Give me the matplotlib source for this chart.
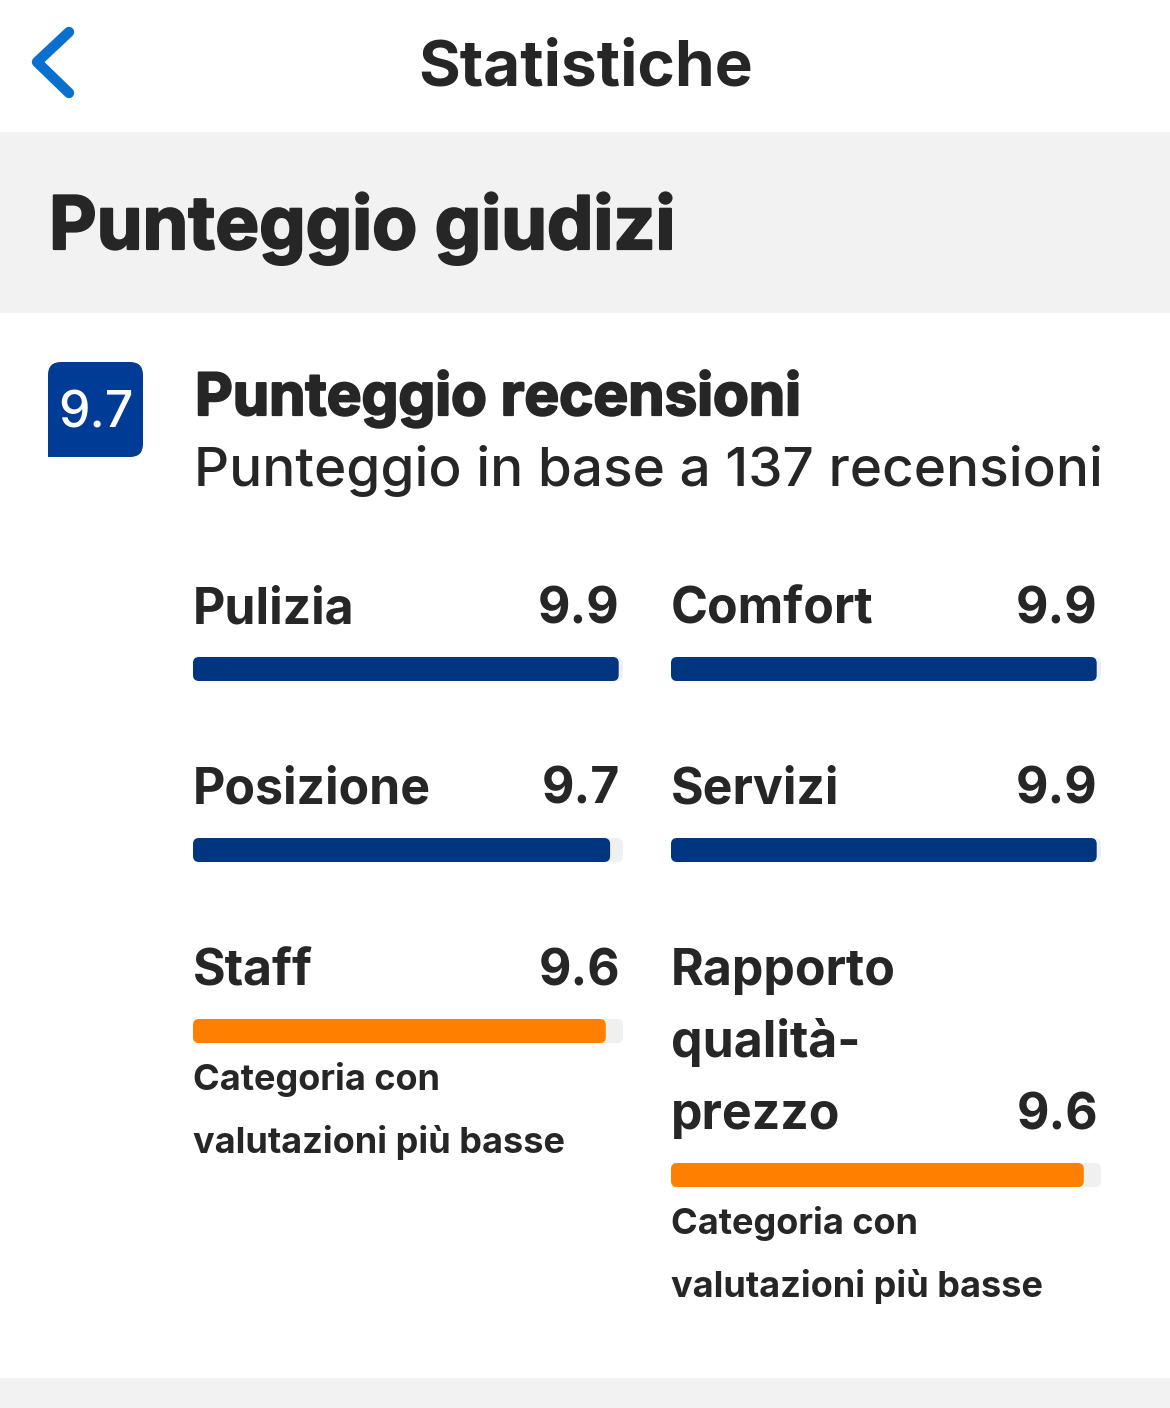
import matplotlib.pyplot as plt
import matplotlib.patheffects as pe
from matplotlib.patches import FancyBboxPatch, Rectangle, PathPatch
from matplotlib.path import Path

plt.rcParams['font.family'] = ['Inter', 'DejaVu Sans']

# data
page_title = 'Statistiche'
section_title = 'Punteggio giudizi'
overall_score = 9.7
n_reviews = 137
categories = ['Pulizia', 'Comfort', 'Posizione', 'Servizi', 'Staff', 'Rapporto\nqualità-\nprezzo']
scores = [9.9, 9.9, 9.7, 9.9, 9.6, 9.6]
max_score = 10
low_note = ['Categoria con', 'valutazioni più basse']

# colours
TEXT = '#262626'
BLUE = '#003580'
BADGE = '#003b95'
ORANGE = '#ff8000'
TRACK = '#f0f0f0'
BAND = '#f2f2f2'
CHEVRON = '#0a6fcf'

# extra stroke to mimic the heavier heading font
heavy = [pe.withStroke(linewidth=1.6, foreground=TEXT)]

W, H = 1170, 1408
fig = plt.figure(figsize=(W / 100, H / 100), dpi=100)
ax = fig.add_axes([0, 0, 1, 1])
ax.set_xlim(0, W)
ax.set_ylim(H, 0)
ax.axis('off')

# top bar with back chevron and title
ax.plot([69, 37, 69], [32, 62, 93], color=CHEVRON, lw=7.5,
        solid_capstyle='round', solid_joinstyle='round')
ax.text(586, 85, page_title, ha='center', va='baseline', fontsize=46,
        fontweight='bold', color=TEXT)

# grey section header
ax.add_patch(Rectangle((0, 132), W, 181, color=BAND, lw=0))
ax.text(49, 249, section_title, ha='left', va='baseline', fontsize=53,
        fontweight='bold', color=TEXT, path_effects=heavy)
ax.add_patch(Rectangle((0, 1378), W, 30, color=BAND, lw=0))

# score badge: rounded except the bottom-left corner
bx0, by0, bx1, by1, r = 48, 362, 143, 457, 13
verts = [(bx0, by1), (bx0, by0 + r), (bx0, by0), (bx0 + r, by0),
         (bx1 - r, by0), (bx1, by0), (bx1, by0 + r),
         (bx1, by1 - r), (bx1, by1), (bx1 - r, by1), (bx0, by1)]
codes = [Path.MOVETO, Path.LINETO, Path.CURVE3, Path.CURVE3,
         Path.LINETO, Path.CURVE3, Path.CURVE3,
         Path.LINETO, Path.CURVE3, Path.CURVE3, Path.CLOSEPOLY]
ax.add_patch(PathPatch(Path(verts, codes), facecolor=BADGE, lw=0))
ax.text((bx0 + bx1) / 2, 428, f'{overall_score:.1f}', ha='center', va='baseline',
        fontsize=36, fontweight='medium', color='white')

ax.text(195, 415, 'Punteggio recensioni', ha='left', va='baseline', fontsize=42,
        fontweight='bold', color=TEXT, path_effects=heavy)
ax.text(194, 486, f'Punteggio in base a {n_reviews} recensioni', ha='left',
        va='baseline', fontsize=39.5, fontweight='medium', color=TEXT)

# category grid, 2 columns
col_x = [193, 671]
track_w = 430
bar_h = 24
line_gap = 72
row_base = [623, 804, 985]
low = min(scores)

for i, (cat, sc) in enumerate(zip(categories, scores)):
    x0 = col_x[i % 2]
    y = row_base[i // 2]
    lines = cat.split('\n')
    for j, line in enumerate(lines):
        ax.text(x0, y + j * line_gap, line, ha='left', va='baseline', fontsize=36,
                fontweight='bold', color=TEXT)
    y_last = y + (len(lines) - 1) * line_gap
    ax.text(x0 + track_w - 3, y_last, f'{sc:.1f}', ha='right', va='baseline',
            fontsize=36, fontweight='bold', color=TEXT)

    yc = y_last + 46
    colour = ORANGE if sc == low else BLUE
    ax.add_patch(FancyBboxPatch((x0, yc - bar_h / 2), track_w, bar_h,
                                boxstyle='round,pad=0,rounding_size=6',
                                facecolor=TRACK, lw=0))
    ax.add_patch(FancyBboxPatch((x0, yc - bar_h / 2), sc / max_score * track_w, bar_h,
                                boxstyle='round,pad=0,rounding_size=6',
                                facecolor=colour, lw=0))
    if sc == low:
        for k, note in enumerate(low_note):
            ax.text(x0, yc + 59 + k * 63, note, ha='left', va='baseline',
                    fontsize=26, fontweight='bold', color=TEXT)

fig.savefig('out.png', dpi=100)
